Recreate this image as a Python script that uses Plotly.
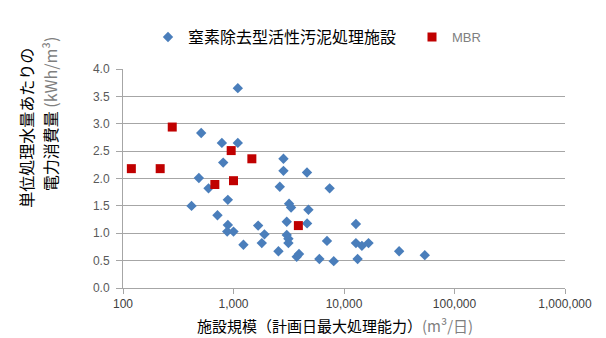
import plotly.graph_objects as go

# ---- data ----
blue_name = "窒素除去型活性汚泥処理施設"
blue_x = [1094, 510, 785, 1094, 807, 486, 594, 2832, 2832, 2624, 4625, 7413,
          417, 889, 716, 3184, 3319, 4764, 3033, 4634, 1671, 889, 877, 1000,
          1905, 3033, 3140, 3140, 1803, 1230, 2552, 3733, 3917, 5984, 8074,
          7015, 12820, 12820, 14520, 16670, 13280, 31550, 53830]
blue_y = [3.65, 2.83, 2.65, 2.65, 2.29, 2.01, 1.82, 2.36, 2.14, 1.85, 2.11, 1.82,
          1.50, 1.61, 1.33, 1.54, 1.47, 1.43, 1.21, 1.18, 1.14, 1.15, 1.03, 1.03,
          0.98, 0.97, 0.90, 0.82, 0.82, 0.79, 0.67, 0.57, 0.62, 0.53, 0.49,
          0.86, 1.17, 0.82, 0.77, 0.82, 0.53, 0.67, 0.60]

red_name = "MBR"
red_x = [119, 217, 279, 678, 953, 1000, 1466, 3864]
red_y = [2.18, 2.18, 2.94, 1.89, 2.51, 1.96, 2.36, 1.14]

x_tickvals = [100, 1000, 10000, 100000, 1000000]
x_ticktext = ["100", "1,000", "10,000", "100,000", "1,000,000"]
y_tickvals = [0, 0.5, 1.0, 1.5, 2.0, 2.5, 3.0, 3.5, 4.0]

x_title = "施設規模（計画日最大処理能力）<span style='color:#7f7f7f'>(m³/日)</span>"
y_title_1 = "単位処理水量あたりの"
y_title_2 = "電力消費量 <span style='color:#7f7f7f'>(kWh/m³)</span>"

# ---- figure ----
W, H = 606, 338
L, R, T, B = 115, 49, 53, 58
pw, ph = W - L - R, H - T - B

CJK = "Noto Sans CJK JP"
LAT = "Liberation Sans"
GRID = "#a6a6a6"
TXT = "#595959"

fig = go.Figure()
fig.add_trace(go.Scatter(
    x=blue_x, y=blue_y, mode="markers", name=blue_name,
    marker=dict(symbol="diamond", size=8, color="#4a7ebb"),
    legend="legend",
))
fig.add_trace(go.Scatter(
    x=red_x, y=red_y, mode="markers",
    name="<span style='color:#7f7f7f'>" + red_name + "</span>",
    marker=dict(symbol="square", size=9, color="#c00000"),
    legend="legend2",
))


def px_x(p):
    return (p - L) / pw


def px_y(p):
    return (H - B - p) / ph


fig.update_layout(
    width=W, height=H,
    margin=dict(l=L, r=R, t=T, b=B, pad=0),
    paper_bgcolor="white", plot_bgcolor="white",
    font=dict(family=CJK, size=16, color="#000000"),
    showlegend=True,
    legend=dict(x=px_x(140), y=px_y(20), xanchor="left", yanchor="middle",
                orientation="h", bgcolor="rgba(0,0,0,0)",
                font=dict(family=CJK, size=16, color="#000000"),
                itemwidth=30),
    legend2=dict(x=px_x(404), y=px_y(20), xanchor="left", yanchor="middle",
                 orientation="h", bgcolor="rgba(0,0,0,0)",
                 font=dict(family=LAT, size=13, color="#7f7f7f"),
                 itemwidth=30),
    xaxis=dict(
        type="log", range=[2, 6],
        tickvals=x_tickvals, ticktext=x_ticktext,
        showgrid=False, zeroline=False,
        showline=True, linecolor=GRID, linewidth=1,
        ticks="outside", ticklen=5, tickcolor=GRID, tickwidth=1,
        tickfont=dict(family=LAT, size=12, color="#404040"),
    ),
    yaxis=dict(
        range=[0, 4], tickvals=y_tickvals, tickformat=".1f",
        showgrid=True, gridcolor=GRID, gridwidth=1, zeroline=False,
        showline=True, linecolor=GRID, linewidth=1,
        ticks="outside", ticklen=6, tickcolor=GRID, tickwidth=1,
        tickfont=dict(family=LAT, size=12, color=TXT),
        ticklabelstandoff=4,
    ),
    annotations=[
        dict(text=x_title, xref="paper", yref="paper",
             x=px_x(327), y=px_y(319), xanchor="center", yanchor="middle",
             showarrow=False, font=dict(family=CJK, size=15, color="#000000")),
        dict(text=y_title_1, xref="paper", yref="paper", textangle=-90,
             x=px_x(18), y=px_y(114), xanchor="center", yanchor="middle",
             showarrow=False, font=dict(family=CJK, size=16, color="#000000")),
        dict(text=y_title_2, xref="paper", yref="paper", textangle=-90,
             x=px_x(42), y=px_y(100), xanchor="center", yanchor="middle",
             showarrow=False, font=dict(family=CJK, size=16, color="#000000")),
    ],
)

fig.write_html("out.html")
